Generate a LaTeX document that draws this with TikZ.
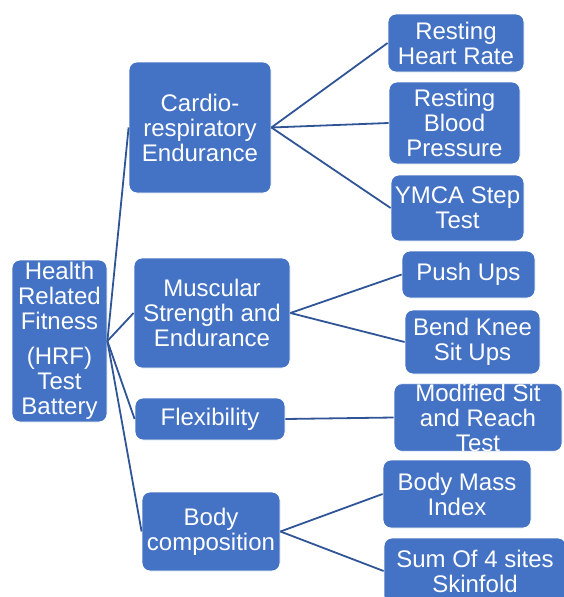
\documentclass[tikz,border=0pt]{standalone}
\usepackage{fontspec}
\setmainfont{Liberation Sans}
\usepackage{tikz}
\usetikzlibrary{positioning}
\definecolor{boxblue}{RGB}{68,114,196}
\definecolor{linkblue}{RGB}{47,85,151}
\tikzset{
  box/.style={draw=white,line width=0.8pt,fill=boxblue,rounded corners=8pt,text=white,
    align=center,inner sep=1pt,font=\fontsize{24}{25}\selectfont},
  link/.style={draw=linkblue,line width=1.8pt}
}
\begin{document}
\begin{tikzpicture}[x=1pt,y=-1pt]
\useasboundingbox (0,0) rectangle (563,597);
%Wurzel
\node[box,minimum width=95pt,minimum height=162pt,inner ysep=0pt] (hrf) at (59.5,341) {Health\\Related\\Fitness\\[10pt](HRF)\\Test\\Battery};
%erste Ebene
\node[box,minimum width=142pt,minimum height=131pt] (cardio) at (200,127.5) {Cardio-\\respiratory\\Endurance};
\node[box,minimum width=156pt,minimum height=110pt] (muskel) at (212,313) {Muscular\\Strength and\\Endurance};
\node[box,minimum width=150pt,minimum height=42pt] (flex) at (210,419) {Flexibility};
\node[box,minimum width=138pt,minimum height=79pt] (koerper) at (211,531.5) {Body\\composition};
%zweite Ebene
\node[box,minimum width=136pt,minimum height=58pt] (puls) at (456,43) {Resting\\Heart Rate};
\node[box,minimum width=131pt,minimum height=82pt] (blutdruck) at (454.5,123) {Resting\\Blood\\Pressure};
\node[box,minimum width=133pt,minimum height=66pt] (ymca) at (457.5,208) {YMCA Step\\Test};
\node[box,minimum width=133pt,minimum height=47pt] (push) at (468.5,274.5) {Push Ups};
\node[box,minimum width=135pt,minimum height=64pt] (situp) at (472.5,342) {Bend Knee\\Sit Ups};
\node[box,minimum width=168pt,minimum height=67pt,inner ysep=0pt] (sitreach) at (478,417.5) {Modified Sit\\and Reach\\Test};
\node[box,minimum width=148pt,minimum height=68pt] (bmi) at (457,494) {Body Mass\\Index};
\node[box,minimum width=182pt,minimum height=66pt] (skin) at (475,571) {Sum Of 4 sites\\Skinfold};
%Verbindungen
\foreach \k in {cardio,muskel,flex,koerper}{
\draw[link] (hrf.east) -- (\k.west);
}
\foreach \k in {puls,blutdruck,ymca}{
\draw[link] (cardio.east) -- (\k.west);
}
\foreach \k in {push,situp}{
\draw[link] (muskel.east) -- (\k.west);
}
\draw[link] (flex.east) -- (sitreach.west);
\foreach \k in {bmi,skin}{
\draw[link] (koerper.east) -- (\k.west);
}
\end{tikzpicture}
\end{document}
